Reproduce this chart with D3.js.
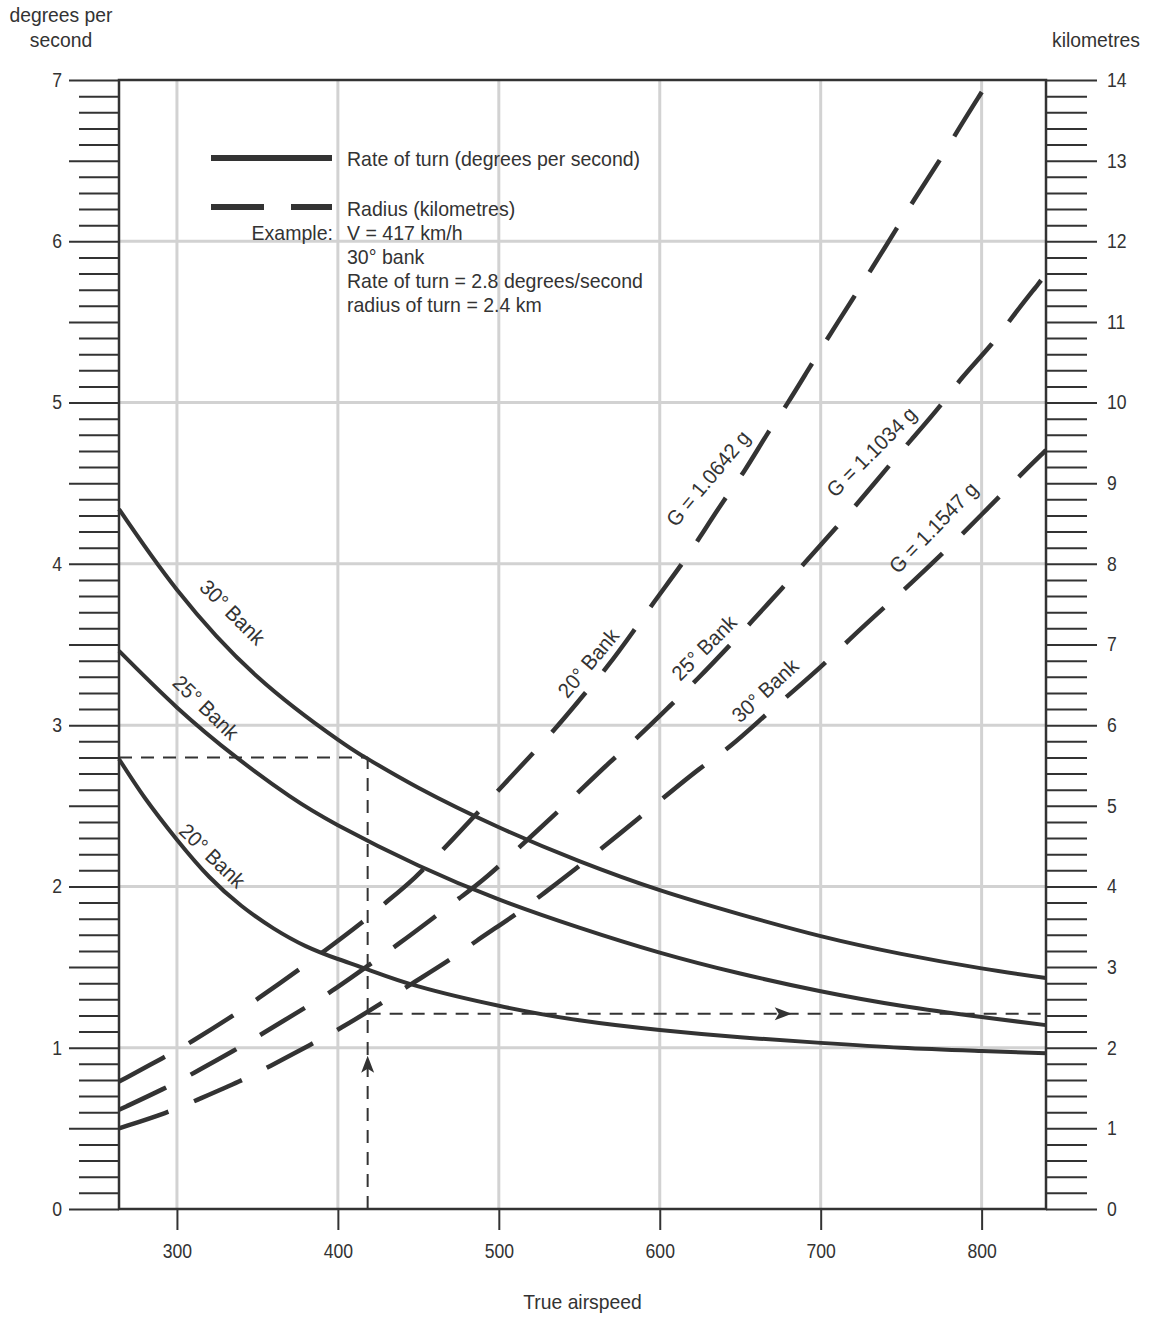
<!DOCTYPE html>
<html>
<head>
<meta charset="utf-8">
<script src="https://cdn.jsdelivr.net/npm/d3@7"></script>
<style>
  body { margin: 0; background: #fff; }
  svg text { font-family: 'Liberation Sans', Arial, sans-serif; fill: #333; }
</style>
</head>
<body>
<svg id="chart"></svg>
<script>
// true airspeed (km/h) and rate of turn (deg/s)
const rate20 = [[264, 2.79], [280, 2.55], [300, 2.29], [320, 2.06], [340, 1.88], [360, 1.74], [380, 1.63], [400, 1.55], [420, 1.48], [450, 1.38], [500, 1.26], [550, 1.17], [600, 1.11], [650, 1.065], [700, 1.03], [750, 1.00], [800, 0.98], [840, 0.965]];
const rate25 = [[264, 3.46], [300, 3.11], [337, 2.80], [370, 2.56], [400, 2.38], [450, 2.13], [500, 1.92], [550, 1.745], [600, 1.59], [650, 1.46], [700, 1.35], [750, 1.26], [800, 1.19], [840, 1.14]];
const rate30 = [[264, 4.34], [300, 3.84], [350, 3.30], [400, 2.91], [417, 2.80], [450, 2.612], [500, 2.367], [550, 2.157], [600, 1.977], [650, 1.827], [700, 1.692], [750, 1.582], [800, 1.492], [840, 1.432]];

// radius of turn (km)
const radius20 = [[264, 1.58], [293, 1.89], [308, 2.06], [336, 2.41], [349, 2.59], [376, 2.97], [391, 3.19], [417, 3.58], [429, 3.79], [447, 4.08], [470, 4.55], [500, 5.20], [534, 5.92], [554, 6.41], [566, 6.68], [585, 7.20], [595, 7.49], [614, 8.00], [624, 8.30], [641, 8.83], [652, 9.12], [668, 9.66], [679, 9.97], [692, 10.40], [705, 10.82], [722, 11.35], [731, 11.64], [748, 12.18], [757, 12.49], [775, 13.03], [784, 13.34], [801, 13.88]];
const radius25 = [[264, 1.23], [293, 1.50], [309, 1.67], [337, 1.98], [352, 2.16], [379, 2.49], [395, 2.68], [421, 3.05], [436, 3.26], [462, 3.65], [475, 3.85], [491, 4.08], [520, 4.62], [545, 5.08], [567, 5.51], [586, 5.84], [609, 6.29], [622, 6.54], [645, 7.02], [656, 7.26], [678, 7.74], [690, 8.01], [711, 8.48], [723, 8.75], [743, 9.23], [755, 9.51], [776, 9.99], [786, 10.28], [808, 10.75], [818, 11.04], [838, 11.54], [840, 11.60]];
const radius30 = [[264, 1.00], [295, 1.20], [311, 1.34], [341, 1.60], [356, 1.75], [385, 2.06], [400, 2.22], [428, 2.56], [443, 2.76], [470, 3.09], [484, 3.30], [512, 3.67], [525, 3.87], [550, 4.25], [575, 4.65], [600, 5.06], [626, 5.49], [643, 5.71], [667, 6.15], [680, 6.37], [704, 6.79], [716, 7.03], [740, 7.47], [753, 7.70], [777, 8.15], [800, 8.61], [824, 9.10], [840, 9.41]];

const speedTicks = [300, 400, 500, 600, 700, 800];
const rateTicks = [0, 1, 2, 3, 4, 5, 6, 7];
const kmTicks = [0, 1, 2, 3, 4, 5, 6, 7, 8, 9, 10, 11, 12, 13, 14];

// curve labels: [text, speed, value, angle]
const rateLabels = [['30° Bank', 334.5, 3.70, 45], ['25° Bank', 318, 3.11, 44], ['20° Bank', 322, 2.19, 44]];
const radiusLabels = [['20° Bank', 555.6, 6.77, -50], ['G = 1.0642 g', 630, 9.06, -50], ['25° Bank', 627.5, 6.96, -45],
  ['G = 1.1034 g', 731.5, 9.39, -45], ['30° Bank', 665.4, 6.43, -43], ['G = 1.1547 g', 770, 8.45, -46]];

// worked example
const exampleSpeed = 418.5;
const exampleRate = 2.8;
const exampleRadius = 2.42;
const exampleText = ['V = 417 km/h', '30° bank', 'Rate of turn = 2.8 degrees/second', 'radius of turn = 2.4 km'];

const margin = { top: 80, right: 103, bottom: 108, left: 119 };
const totalW = 1149, totalH = 1317;
const width = totalW - margin.left - margin.right;
const height = totalH - margin.top - margin.bottom;
const ink = '#333';

const root = d3.select('#chart').attr('width', totalW).attr('height', totalH);
const svg = root.append('g').attr('transform', `translate(${margin.left},${margin.top})`);

const x = d3.scaleLinear().domain([264, 840]).range([0, width]);
const yRate = d3.scaleLinear().domain([0, 7]).range([height, 0]);
const yKm = d3.scaleLinear().domain([0, 14]).range([height, 0]);

// narrow the Liberation glyphs a little, the original face is condensed
function narrow(sel, k) {
  sel.each(function () {
    const w = this.getComputedTextLength();
    if (w > 0) d3.select(this).attr('textLength', w * k).attr('lengthAdjust', 'spacingAndGlyphs');
  });
}

// grid
svg.append('g').selectAll('line').data(speedTicks).join('line')
  .attr('x1', d => x(d)).attr('x2', d => x(d)).attr('y1', 0).attr('y2', height)
  .attr('stroke', '#d2d2d2').attr('stroke-width', 3);
svg.append('g').selectAll('line').data(rateTicks.slice(1, -1)).join('line')
  .attr('y1', d => yRate(d)).attr('y2', d => yRate(d)).attr('x1', 0).attr('x2', width)
  .attr('stroke', '#d2d2d2').attr('stroke-width', 3);

// left axis: minor every 0.1, long every 0.5
const leftMinor = d3.range(0, 71).map(i => i / 10).filter(d => Math.round(d * 10) % 5 !== 0);
const leftMajor = d3.range(0, 15).map(i => i / 2);
const styleAxis = g => {
  g.select('.domain').remove();
  g.selectAll('line').attr('stroke', ink).attr('stroke-width', 2);
  g.selectAll('text').style('font-size', '20px').attr('fill', ink);
};
svg.append('g').call(d3.axisLeft(yRate).tickValues(leftMinor).tickSize(40).tickFormat('')).call(styleAxis);
const leftAxis = svg.append('g')
  .call(d3.axisLeft(yRate).tickValues(leftMajor).tickSize(50).tickPadding(7)
    .tickFormat(d => (Number.isInteger(d) ? d : '')))
  .call(styleAxis);

// right axis: minor every 0.2 km, long every 1 km
const rightMinor = d3.range(0, 71).map(i => i / 5).filter(d => Math.round(d * 5) % 5 !== 0);
svg.append('g').attr('transform', `translate(${width},0)`)
  .call(d3.axisRight(yKm).tickValues(rightMinor).tickSize(41).tickFormat('')).call(styleAxis);
const rightAxis = svg.append('g').attr('transform', `translate(${width},0)`)
  .call(d3.axisRight(yKm).tickValues(kmTicks).tickSize(51).tickPadding(10)).call(styleAxis);

// bottom axis
const bottomAxis = svg.append('g').attr('transform', `translate(0,${height})`)
  .call(d3.axisBottom(x).tickValues(speedTicks).tickSize(21).tickPadding(14))
  .call(styleAxis);

[leftAxis, rightAxis, bottomAxis].forEach(g => narrow(g.selectAll('text'), 0.88));

// frame
svg.append('rect').attr('width', width).attr('height', height)
  .attr('fill', 'none').attr('stroke', ink).attr('stroke-width', 2.5);

// axis titles
const titles = root.append('g').style('font-size', '21px');
titles.append('text').attr('x', 61).attr('y', 22).attr('text-anchor', 'middle').text('degrees per');
titles.append('text').attr('x', 61).attr('y', 47).attr('text-anchor', 'middle').text('second');
titles.append('text').attr('x', 1096).attr('y', 47).attr('text-anchor', 'middle').text('kilometres');
titles.append('text').attr('x', margin.left + width / 2).attr('y', 1309).attr('text-anchor', 'middle').text('True airspeed');
narrow(titles.selectAll('text'), 0.92);

// example guide lines
const guide = svg.append('g').attr('stroke', ink).attr('stroke-width', 2).attr('stroke-dasharray', '13,9').attr('fill', 'none');
guide.append('line').attr('x1', 0).attr('x2', x(exampleSpeed)).attr('y1', yRate(exampleRate)).attr('y2', yRate(exampleRate));
guide.append('line').attr('x1', x(exampleSpeed)).attr('x2', x(exampleSpeed)).attr('y1', height).attr('y2', yRate(exampleRate));
guide.append('line').attr('x1', x(exampleSpeed)).attr('x2', width).attr('y1', yKm(exampleRadius)).attr('y2', yKm(exampleRadius));

const arrow = 'M0,0 L-17,-6.5 L-13,0 L-17,6.5 Z';
svg.append('path').attr('d', arrow).attr('fill', ink)
  .attr('transform', `translate(${x(682)},${yKm(exampleRadius)})`);
svg.append('path').attr('d', arrow).attr('fill', ink)
  .attr('transform', `translate(${x(exampleSpeed)},${yKm(1.9)}) rotate(-90)`);

// curves
const lineRate = d3.line().x(d => x(d[0])).y(d => yRate(d[1])).curve(d3.curveNatural);
const lineKm = d3.line().x(d => x(d[0])).y(d => yKm(d[1])).curve(d3.curveBasis);

[rate20, rate25, rate30].forEach(s => {
  svg.append('path').datum(s).attr('d', lineRate)
    .attr('fill', 'none').attr('stroke', ink).attr('stroke-width', 4);
});
[radius20, radius25, radius30].forEach(s => {
  svg.append('path').datum(s).attr('d', lineKm)
    .attr('fill', 'none').attr('stroke', ink).attr('stroke-width', 4.5).attr('stroke-dasharray', '52,28');
});

// curve labels
const curveLabels = svg.append('g').style('font-size', '21px');
curveLabels.selectAll('.rl').data(rateLabels).join('text').attr('class', 'rl')
  .attr('transform', d => `translate(${x(d[1])},${yRate(d[2])}) rotate(${d[3]})`)
  .attr('text-anchor', 'middle').attr('dy', '0.35em').text(d => d[0]);
curveLabels.selectAll('.kl').data(radiusLabels).join('text').attr('class', 'kl')
  .attr('transform', d => `translate(${x(d[1])},${yKm(d[2])}) rotate(${d[3]})`)
  .attr('text-anchor', 'middle').attr('dy', '0.35em').text(d => d[0]);
narrow(curveLabels.selectAll('text'), 0.96);

// legend
const legend = svg.append('g').attr('transform', 'translate(92,78)').style('font-size', '21px');
legend.append('line').attr('x1', 0).attr('x2', 121).attr('y1', 0).attr('y2', 0)
  .attr('stroke', ink).attr('stroke-width', 6);
legend.append('line').attr('x1', 0).attr('x2', 121).attr('y1', 49).attr('y2', 49)
  .attr('stroke', ink).attr('stroke-width', 6).attr('stroke-dasharray', '53,27');
legend.append('text').attr('x', 136).attr('y', 8).text('Rate of turn (degrees per second)');
legend.append('text').attr('x', 136).attr('y', 58).text('Radius (kilometres)');
legend.append('text').attr('x', 122).attr('y', 82).attr('text-anchor', 'end').text('Example:');
legend.selectAll('.ex').data(exampleText).join('text').attr('class', 'ex')
  .attr('x', 136).attr('y', (d, i) => 82 + i * 24).text(d => d);
narrow(legend.selectAll('text'), 0.93);
</script>
</body>
</html>
